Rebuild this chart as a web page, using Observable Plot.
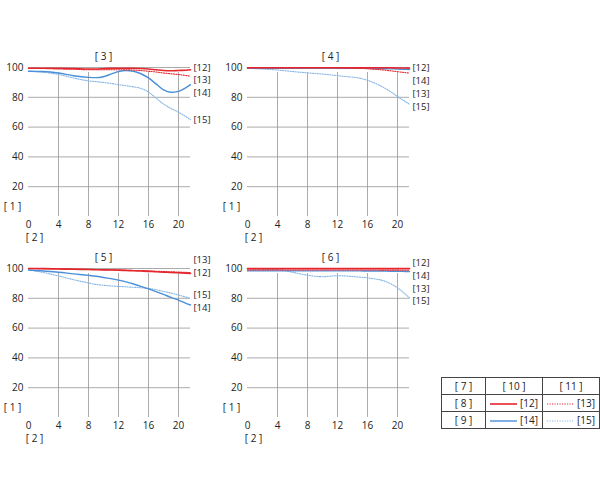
<!DOCTYPE html>
<html><head><meta charset="utf-8">
<script src="https://cdn.jsdelivr.net/npm/d3@7"></script>
<script src="https://cdn.jsdelivr.net/npm/@observablehq/plot@0.6"></script>
<style>
body{margin:0;background:#fff;}
#root{position:relative;width:600px;height:493px;background:#fff;font-family:"Open Sans",sans-serif;color:#222;}
.panel{position:absolute;}
#legend{position:absolute;left:441px;top:377px;border-collapse:collapse;font-size:10px;color:#222;}
#legend td{border:1px solid #444;height:16px;padding:0;text-align:center;white-space:nowrap;}
#legend svg{vertical-align:middle;margin-right:3px;}
</style></head>
<body><div id="root"></div>
<script>
// shared x positions (mm) at which the curves are sampled
const xPts = [0,2,4,6,8,9,10,11,12,13,14,15,16,17,18,19,20,21,21.6];
const xTicks = [0,4,8,12,16,20];
const xGrid = [4,8,12,16,20];
const yTicks = [20,40,60,80,100];
const seriesNames = ["[12]","[13]","[14]","[15]"];
const panelTitles = ["[ 3 ]","[ 4 ]","[ 5 ]","[ 6 ]"];
const yLabel = "[ 1 ]";
const xLabel = "[ 2 ]";

// Panel [3]
const p3_12 = [99.5,99.5,99.5,99.3,99,99,99.2,99.4,99.5,99.5,99.5,99.3,99,98.5,98,97.8,98,98.2,98.5];
const p3_13 = [99.5,99.3,99,98.8,98.5,98.5,98.5,98.5,98.5,98.5,98.3,98,97.5,97,96.3,95.8,95.3,94.6,94.2];
const p3_14 = [97.5,97.3,96.3,94.5,93.4,93.2,93.8,95.5,97.3,98,97.5,95.8,93,89,85,83.4,84,86.5,88.5];
const p3_15 = [97.5,96.8,95.3,93,91,90.5,90,89.3,88.5,87.8,87,86,83.5,79.5,75.5,72.5,70,67,65];
const p3_labels = [100,91.5,82.6,64.9];
// Panel [4]
const p4_12 = [99.8,99.8,99.8,99.8,99.8,99.8,99.8,99.8,99.8,99.8,99.8,99.8,99.8,99.8,99.8,99.8,99.7,99.7,99.6];
const p4_13 = [99.8,99.8,99.8,99.8,99.8,99.8,99.8,99.8,99.8,99.7,99.6,99.4,99.2,98.8,98.4,97.8,97.2,96.6,96.2];
const p4_14 = [99.5,99.5,99.5,99.5,99.5,99.5,99.5,99.5,99.5,99.5,99.5,99.5,99.4,99.3,99.2,99.1,99,98.8,98.6];
const p4_15 = [99.5,99,98.3,97.3,96.4,96,95.6,95.1,94.5,94,93.5,92.8,91.4,89.5,87,84,80.5,77.3,75.3];
const p4_labels = [100,82.2,91.1,73.5];
// Panel [5]
const p5_12 = [100,99.9,99.7,99.5,99.3,99.2,99.1,99,98.9,98.7,98.5,98.3,98.1,97.8,97.6,97.3,97.1,96.9,96.7];
const p5_13 = [100,99.9,99.8,99.6,99.4,99.3,99.2,99.1,99,98.9,98.7,98.6,98.4,98.2,98,97.8,97.6,97.4,97.2];
const p5_14 = [99,98.3,97.5,96.4,95.4,94.8,94,93.2,92.2,91,89.6,88,86.3,84.5,82.6,80.6,78.8,76.6,75.5];
const p5_15 = [99,97.3,95,92.5,90.3,89.3,88.7,88.3,88,87.7,87.4,87.1,86.6,85.8,84.6,83.5,82.2,80.8,80];
const p5_labels = [97,105.7,73.2,82];
// Panel [6]
const p6_12 = [99.9,99.9,99.9,99.9,99.9,99.9,99.9,99.9,99.9,99.9,99.9,99.9,99.9,99.9,99.9,99.9,99.9,99.9,99.9];
const p6_13 = [99,99,99,99,99,99,99,99,99,99,99,99,99,99,98.9,98.9,98.9,98.8,98.8];
const p6_14 = [98.4,98.4,98.4,98.4,98.4,98.4,98.4,98.4,98.4,98.4,98.4,98.4,98.3,98.3,98.3,98.2,98.2,98,97.9];
const p6_15 = [99,99.2,99.3,97.5,95.5,94.8,94.5,94.8,95.2,95,94.6,94.2,93.7,93,92,90,87,83,80.3];
const p6_labels = [104,86.6,95.3,77.9];

const RED = "#e5262d", BLUE = "#4a8fd8", LBLUE = "#86b6e6";
const styles = [
  {stroke: RED, strokeWidth: 1.6},
  {stroke: RED, strokeWidth: 1.1, strokeDasharray: "1.2,1.3"},
  {stroke: BLUE, strokeWidth: 1.4},
  {stroke: LBLUE, strokeWidth: 1.1, strokeDasharray: "1.2,1.3"}
];
const drawOrder = [3,2,1,0];

function panel(title, series, labelVals, left, top, titleDx) {
  const xEnd = xPts[xPts.length - 1];
  const lineMarks = drawOrder.map(i =>
    Plot.line(xPts.map((x, j) => ({x, y: series[i][j]})), {x: "x", y: "y", curve: "monotone-x", ...styles[i]})
  );
  const labels = seriesNames.map((name, i) => ({name, v: labelVals[i]}));
  const chart = Plot.plot({
    width: 215, height: 205,
    marginLeft: 28, marginRight: 25, marginTop: 25, marginBottom: 31,
    style: {fontFamily: "'Open Sans', sans-serif", fontSize: "10px", color: "#222", background: "transparent", overflow: "visible"},
    x: {domain: [0, xEnd], ticks: xTicks, tickSize: 0, tickPadding: 4, label: null},
    y: {domain: [0, 100], ticks: yTicks, tickSize: 0, tickPadding: 5, label: null},
    marks: [
      Plot.ruleY(yTicks, {stroke: "#959595", strokeWidth: 0.8}),
      Plot.ruleX(xGrid, {y1: 0, y2: 100, insetBottom: -5, stroke: "#959595", strokeWidth: 0.8}),
      ...lineMarks,
      Plot.text(labels, {x: () => xEnd, y: "v", text: "name", dx: 3, textAnchor: "start", fontSize: 9.5, fill: "#222"}),
      Plot.text([title], {frameAnchor: "top", text: d => d, dy: -15, dx: titleDx, fill: "#222"}),
      Plot.text([yLabel], {frameAnchor: "bottom-left", textAnchor: "middle", text: d => d, dx: -16, dy: -7, fill: "#222"}),
      Plot.text([xLabel], {frameAnchor: "bottom-left", textAnchor: "middle", text: d => d, dx: 6, dy: 24, fill: "#222"})
    ]
  });
  const div = document.createElement("div");
  div.className = "panel";
  div.style.left = left + "px";
  div.style.top = top + "px";
  div.appendChild(chart);
  document.getElementById("root").appendChild(div);
}

panel(panelTitles[0], [p3_12,p3_13,p3_14,p3_15], p3_labels, 0, 42, -6);
panel(panelTitles[1], [p4_12,p4_13,p4_14,p4_15], p4_labels, 219, 42, 2);
panel(panelTitles[2], [p5_12,p5_13,p5_14,p5_15], p5_labels, 0, 243, -6);
panel(panelTitles[3], [p6_12,p6_13,p6_14,p6_15], p6_labels, 219, 243, 2);

// legend table
const legendHead = ["[ 7 ]","[ 10 ]","[ 11 ]"];
const legendRows = ["[ 8 ]","[ 9 ]"];
function swatch(st) {
  const dash = st.strokeDasharray ? `stroke-dasharray="${st.strokeDasharray}"` : "";
  return `<svg width="27" height="4"><line x1="0" y1="2" x2="27" y2="2" stroke="${st.stroke}" stroke-width="${st.strokeWidth}" ${dash}/></svg>`;
}
const tbl = document.createElement("table");
tbl.id = "legend";
let html = `<tr><td style="width:43px">${legendHead[0]}</td><td style="width:56px">${legendHead[1]}</td><td style="width:56px">${legendHead[2]}</td></tr>`;
legendRows.forEach((r, k) => {
  html += `<tr><td>${r}</td><td>${swatch(styles[k*2])}${seriesNames[k*2]}</td><td>${swatch(styles[k*2+1])}${seriesNames[k*2+1]}</td></tr>`;
});
tbl.innerHTML = html;
document.getElementById("root").appendChild(tbl);
</script>
</body></html>
